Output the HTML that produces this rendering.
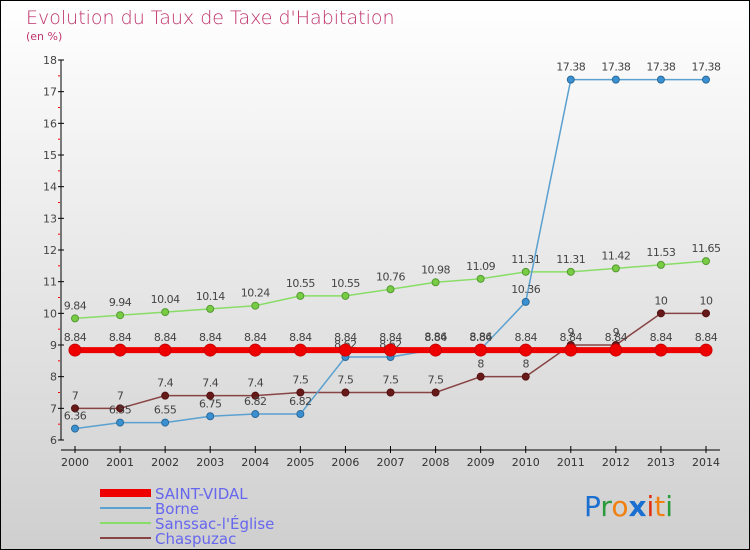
<!DOCTYPE html>
<html><head><meta charset="utf-8"><style>
body{margin:0}
#c{width:750px;height:550px;position:relative;box-sizing:border-box;border:1px solid #000;background:linear-gradient(#fff,#cfcfcf);font-family:"DejaVu Sans","Liberation Sans",sans-serif}
text{font-family:"DejaVu Sans","Liberation Sans",sans-serif}
</style></head><body>
<div id="c">
<svg id="s" width="750" height="550" style="position:absolute;left:-1px;top:-1px">
<text x="26" y="24" font-size="19" fill="#c0336b" style="font-weight:200">Evolution du Taux de Taxe d'Habitation</text>
<text x="26" y="40" font-size="11" fill="#c0336b">(en %)</text>
<g id="axes"></g><g id="series"></g>
<g>
<rect x="100" y="489" width="51" height="8" fill="#e00"/>
<text x="155" y="499" font-size="15" fill="#6666ee">SAINT-VIDAL</text>
<line x1="100" y1="508" x2="151" y2="508" stroke="#5aa0d0" stroke-width="2"/>
<text x="155" y="514" font-size="15" fill="#6666ee">Borne</text>
<line x1="100" y1="523" x2="151" y2="523" stroke="#88dd66" stroke-width="2"/>
<text x="155" y="529" font-size="15" fill="#6666ee">Sanssac-l'Église</text>
<line x1="100" y1="538" x2="151" y2="538" stroke="#884444" stroke-width="2"/>
<text x="155" y="544" font-size="15" fill="#6666ee">Chaspuzac</text>
</g>
<g font-size="28" font-family="Liberation Sans">
<text x="584" y="516" font-size="28"><tspan fill="#1a6fd0">P</tspan><tspan fill="#2a9a3a">r</tspan><tspan fill="#f08010">o</tspan><tspan fill="#1a6fd0" font-weight="bold">x</tspan><tspan fill="#e03010">i</tspan><tspan fill="#f08010">t</tspan><tspan fill="#2a9a3a">i</tspan></text>
</g>
</svg>
</div>
<script>
const years=[2000,2001,2002,2003,2004,2005,2006,2007,2008,2009,2010,2011,2012,2013,2014];
const saintVidal=[8.84,8.84,8.84,8.84,8.84,8.84,8.84,8.84,8.84,8.84,8.84,8.84,8.84,8.84,8.84];
const borne=[6.36,6.55,6.55,6.75,6.82,6.82,8.62,8.62,8.86,8.86,10.36,17.38,17.38,17.38,17.38];
const sanssac=[9.84,9.94,10.04,10.14,10.24,10.55,10.55,10.76,10.98,11.09,11.31,11.31,11.42,11.53,11.65];
const chaspuzac=[7,7,7.4,7.4,7.4,7.5,7.5,7.5,7.5,8,8,9,9,10,10];
const yTicks=[6,7,8,9,10,11,12,13,14,15,16,17,18];
const NS="http://www.w3.org/2000/svg";
const x=i=>75+(706-75)*i/(years.length-1);
const y=v=>440-(v-6)*(380/12);
function mk(t,a,p){const e=document.createElementNS(NS,t);for(const k in a)e.setAttribute(k,a[k]);p.appendChild(e);return e;}
const ax=document.getElementById('axes');
const yl=mk('line',{x1:61,y1:60,x2:61,y2:440,stroke:'#000','stroke-width':1},ax);


yTicks.forEach(v=>{
 mk('line',{x1:58,x2:64,y1:y(v),y2:y(v),stroke:'#000'},ax);
 if(v<18)mk('line',{x1:58,x2:60,y1:y(v+0.5),y2:y(v+0.5),stroke:'#f00'},ax);
 const t=mk('text',{x:57,y:y(v)+4,'font-size':11,fill:'#444','text-anchor':'end'},ax);t.textContent=v;
 
 
});
const xl=mk('line',{x1:61,y1:450,x2:720,y2:450,stroke:'#000'},ax);


years.forEach((yr,i)=>{
 mk('line',{x1:x(i),x2:x(i),y1:446,y2:453,stroke:'#000'},ax);
 const t=mk('text',{x:x(i),y:466,'font-size':11,fill:'#333','text-anchor':'middle'},ax);t.textContent=yr;
 
 
});
const sg=document.getElementById('series');
function series(data,name,color,w,dot,r,dotStroke){
 const g=mk('g',{},sg);
 
 
 mk('polyline',{points:data.map((v,i)=>x(i)+','+y(v)).join(' '),fill:'none',stroke:color,'stroke-width':w},g);
 data.forEach((v,i)=>{
  const c=mk('circle',{cx:x(i),cy:y(v),r:r,fill:dot,stroke:dotStroke,'stroke-width':1},g);
  
  
  const t=mk('text',{x:x(i),y:y(v)-9,'font-size':11,fill:'#444','text-anchor':'middle','letter-spacing':'-0.5'},g);t.textContent=v;
  
  
 });
}
series(sanssac,'sanssac-series','#88dd66',1.5,'#77cc44',3.5,'#559933');
series(chaspuzac,'chaspuzac-series','#884444',1.5,'#661a1a',3.5,'#551111');
series(borne,'borne-series','#5aa0d0',1.5,'#3a90d0',3.5,'#2a6a9a');
series(saintVidal,'saint-vidal-series','#e00',6,'#e00',6,'#c00');
</script>
</body></html>
